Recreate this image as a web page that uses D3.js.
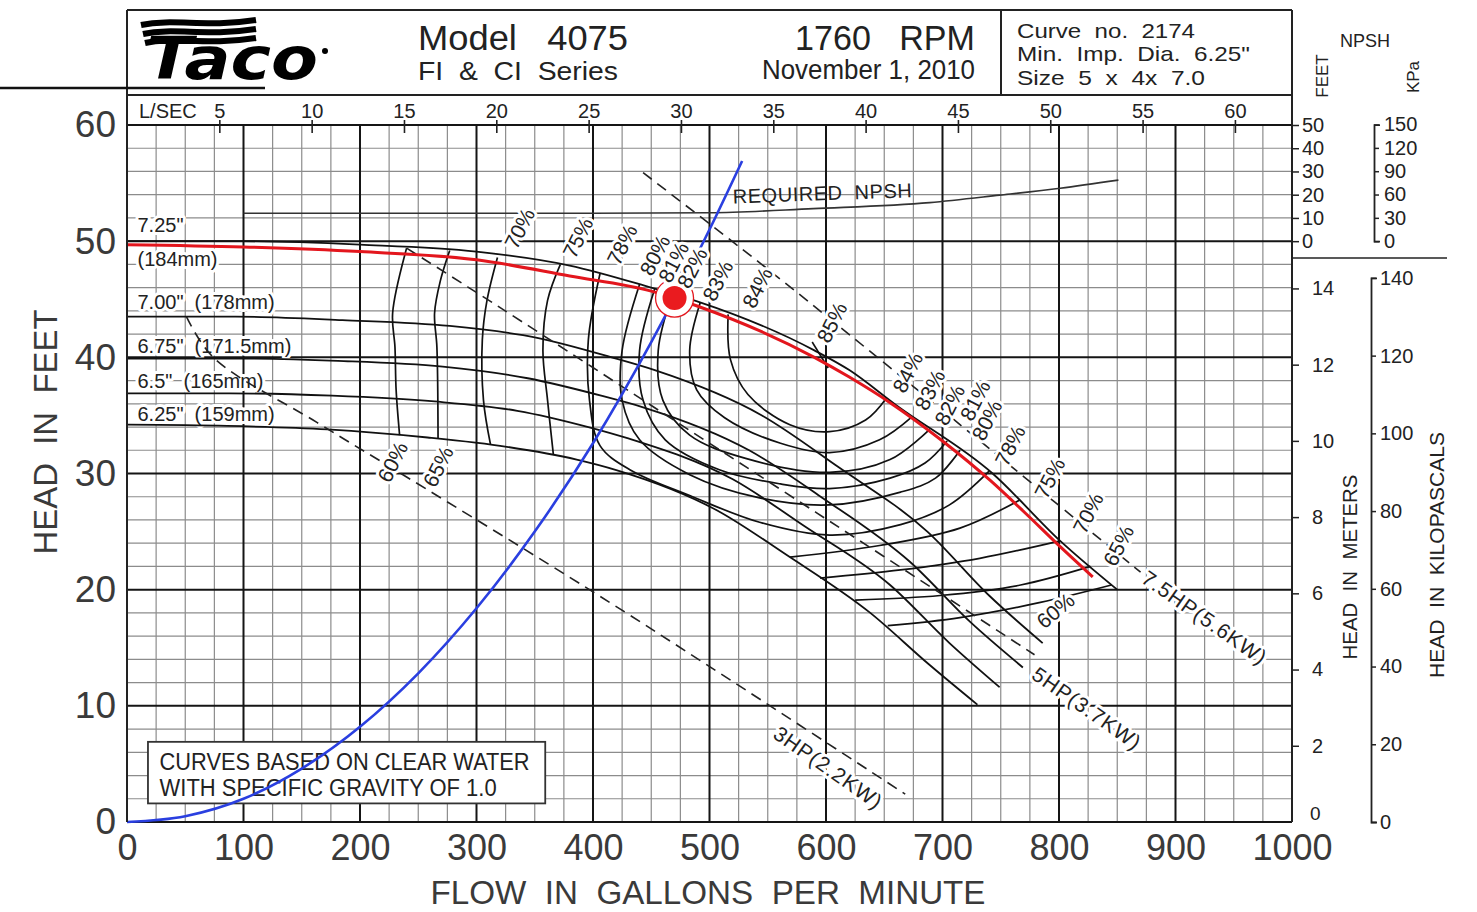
<!DOCTYPE html>
<html>
<head>
<meta charset="utf-8">
<script src="https://cdn.jsdelivr.net/npm/d3@7"></script>
<style>
  body { margin: 0; background: #fff; }
  svg { display: block; font-family: "Liberation Sans", Arial, sans-serif; }
  .halo { paint-order: stroke; stroke: #fff; stroke-width: 6px; stroke-linejoin: round; }
</style>
</head>
<body>
<svg id="chart" width="1477" height="912"></svg>
<script>
// ---- axis ticks ----
const flowTicks = [0, 100, 200, 300, 400, 500, 600, 700, 800, 900, 1000];
const headTicks = [0, 10, 20, 30, 40, 50, 60];
const lsecTicks = [5, 10, 15, 20, 25, 30, 35, 40, 45, 50, 55, 60];
const meterTicks = [0, 2, 4, 6, 8, 10, 12, 14];
const kpaTicks = [0, 20, 40, 60, 80, 100, 120, 140];
const npshFtTicks = [0, 10, 20, 30, 40, 50];
const npshKpaTicks = [0, 30, 60, 90, 120, 150];

// ---- impeller curves [gpm, feet] ----
const imp725 = [[0,50.0],[100,50.0],[200,49.7],[300,49.1],[380,47.9],[450,46.0],[490,44.8],[590,40.6],[620,38.9],[660,35.9],[743,30.0],[801,24.2],[850,20.0]];
const imp700 = [[0,43.5],[93,43.5],[185,43.2],[277,42.7],[351,41.7],[416,40.0],[453,38.9],[545,35.0],[610,30.6],[687,25.0],[740,19.5],[786,15.4]];
const imp675 = [[0,39.9],[91,39.9],[181,39.7],[271,39.2],[344,38.2],[407,36.7],[443,35.7],[534,32.0],[597,27.9],[672,22.4],[724,17.2],[769,13.3]];
const imp650 = [[0,36.9],[88,36.9],[176,36.7],[264,36.2],[335,35.4],[396,34.0],[431,33.0],[520,29.5],[581,25.5],[655,20.4],[706,15.4],[749,11.6]];
const imp625 = [[0,34.2],[86,34.1],[172,33.8],[258,33.1],[326,32.3],[386,31.2],[420,30.3],[507,26.8],[566,23.0],[638,18.0],[688,13.6],[730,10.1]];

// operating impeller (red), system curve (blue), duty point
const operating = [[0,49.7],[100,49.5],[200,49.1],[300,48.4],[380,47.0],[450,45.7],[490,44.4],[590,40.0],[620,38.3],[655,36.1],[700,32.8],[741,29.4],[771,26.6],[801,23.7],[829,21.1]];
const systemCurve = [[0,0],[50,0.5],[100,2.0],[150,4.6],[200,8.2],[250,12.8],[300,18.4],[350,25.0],[400,32.6],[450,41.3],[500,51.0],[528,56.9]];
const dutyPoint = [470, 45.1];
const bepPoint = [595, 40.2];

// required NPSH [gpm, NPSH feet]
const npshReq = [[100,12.0],[200,12.0],[300,12.0],[400,12.0],[500,12.2],[589,14.0],[689,16.6],[749,19.8],[801,22.8],[851,26.3]];

// horsepower lines
const hp3 = [[51,43.5],[74,40.0],[163,34.4],[240,29.7],[397,20.0],[509,12.8],[668,2.4]];
const hp5 = [[240,49.4],[320,44.3],[477,34.1],[563,28.5],[649,22.9],[779,14.4]];
const hp75 = [[443,55.9],[541,48.3],[601,43.5],[687,36.5],[870,21.5]];

// iso-efficiency contours
const eff60L = [[240,49.4],[228,43.8],[230,40.9],[231,37.2],[234,33.3]];
const eff65L = [[277,49.2],[269,46.6],[264,43.8],[266,40.9],[267,33.0]];
const eff70L = [[318,48.6],[309,44.9],[305,41.5],[306,36.3],[312,32.5]];
const eff75L = [[372,48.0],[361,44.9],[357,40.6],[361,36.3],[366,31.6]];
const eff78 = [[406,47.2],[396,41.5],[397,36.3],[406,32.4],[432,30.3],[483,28.1],[543,25.8],[603,24.7],[664,25.6],[706,27.3],[740,30.2]];
const eff80 = [[440,46.3],[425,40.6],[425,36.3],[440,32.9],[483,29.9],[543,27.9],[603,27.3],[664,28.4],[694,29.6],[715,32.0]];
const eff81 = [[453,45.9],[440,40.6],[443,36.3],[462,32.9],[509,30.3],[561,29.1],[603,28.7],[655,29.6],[685,30.9],[704,32.8]];
const eff82 = [[468,45.4],[456,40.6],[460,36.3],[483,33.3],[531,31.3],[603,30.1],[655,31.2],[689,33.8]];
const eff83 = [[492,44.7],[483,40.6],[489,37.2],[513,34.8],[561,32.6],[603,31.8],[646,32.9],[674,34.9]];
const eff84 = [[516,43.7],[518,39.8],[533,36.8],[569,34.2],[603,33.6],[634,34.6],[652,36.5]];
const eff75R = [[569,22.8],[646,23.8],[715,25.3],[766,27.7]];
const eff70R = [[595,21.0],[664,21.7],[732,22.7],[801,24.2]];
const eff65R = [[625,19.1],[698,19.5],[767,20.4],[827,22.0]];
const eff60R = [[653,16.9],[715,17.6],[784,18.9],[845,20.4]];

// labels placed in data coordinates [text, gpm, feet]
const SP = "\u00A0\u00A0";
const impellerLabels = [["7.25\"",9,50.8],["(184mm)",9,47.9],["7.00\"" + SP + "(178mm)",9,44.2],["6.75\"" + SP + "(171.5mm)",9,40.4],["6.5\"" + SP + "(165mm)",9,37.35],["6.25\"" + SP + "(159mm)",9,34.5]];
const effLabels = [["70%",337,51.1],["75%",387,50.3],["78%",425,49.7],["80%",453,48.8],["81%",469,48.2],["82%",485,47.7],["83%",507,46.6],["84%",541,46.0],["85%",605,43.0],["60%",228,31.0],["65%",267,30.6],
  ["84%",670,38.7],["83%",689,37.2],["82%",706,35.9],["81%",728,36.3],["80%",738,34.6],["78%",758,32.4],["75%",792,29.6],["70%",825,26.6],["65%",851,23.8]];
const eff60Label = ["60%", 797, 18.2];
const hpLabels = [["3HP(2.2KW)",602,4.7],["5HP(3.7KW)",824,9.8],["7.5HP(5.6KW)",925,17.6]];

// ---- scales ----
const GPM_PER_LS = 15.85, FT_PER_M = 3.2808, FT_PER_KPA = 0.33456;
const x = d3.scaleLinear().domain([0, 1000]).range([127, 1292]);
const y = d3.scaleLinear().domain([0, 60]).range([822, 125]);
const xL = d3.scaleLinear().domain([0, 1000 / GPM_PER_LS]).range([x(0), x(1000)]);
const yM = d3.scaleLinear().domain([0, 60 / FT_PER_M]).range([y(0), y(60)]);
const yK = d3.scaleLinear().domain([0, 140]).range([y(0), y(140 * FT_PER_KPA)]);
const yN = d3.scaleLinear().domain([0, 50]).range([y(50), y(60)]);
const yNK = d3.scaleLinear().domain([0, 150]).range([yN(0), yN(150 * FT_PER_KPA)]);

const svg = d3.select("#chart");
const gGrid = svg.append("g");
const gBack = svg.append("g");
const gCurves = svg.append("g");
const gFront = svg.append("g");

// ---- grid ----
const minorX = d3.range(0, 1001, 25).filter(v => v % 100);
const minorY = d3.range(0, 61, 2).filter(v => v % 10);
gGrid.selectAll(".mx").data(minorX).join("line")
  .attr("x1", d => x(d)).attr("x2", d => x(d)).attr("y1", y(0)).attr("y2", y(60))
  .attr("stroke", "#8c8c8c").attr("stroke-width", 1.2);
gGrid.selectAll(".my").data(minorY).join("line")
  .attr("y1", d => y(d)).attr("y2", d => y(d)).attr("x1", x(0)).attr("x2", x(1000))
  .attr("stroke", "#8c8c8c").attr("stroke-width", 1.2);
gGrid.selectAll(".Mx").data(flowTicks).join("line")
  .attr("x1", d => x(d)).attr("x2", d => x(d)).attr("y1", y(0)).attr("y2", y(60))
  .attr("stroke", "#151515").attr("stroke-width", 2);
gGrid.selectAll(".My").data(headTicks).join("line")
  .attr("y1", d => y(d)).attr("y2", d => y(d)).attr("x1", x(0)).attr("x2", x(1000))
  .attr("stroke", "#151515").attr("stroke-width", 2);

// ---- frame / header ----
const frame = svg.append("g").attr("stroke", "#222").attr("stroke-width", 2).attr("fill", "none");
frame.append("line").attr("x1", x(0)).attr("x2", x(0)).attr("y1", 10).attr("y2", y(0));
frame.append("line").attr("x1", x(1000)).attr("x2", x(1000)).attr("y1", 10).attr("y2", y(0));
frame.append("line").attr("x1", x(0)).attr("x2", x(1000)).attr("y1", 10).attr("y2", 10);
frame.append("line").attr("x1", x(0)).attr("x2", x(1000)).attr("y1", 95).attr("y2", 95);
frame.append("line").attr("x1", 1001).attr("x2", 1001).attr("y1", 10).attr("y2", 95);
frame.append("line").attr("x1", x(1000)).attr("x2", 1447).attr("y1", 258).attr("y2", 258).attr("stroke-width", 1.6);
svg.append("line").attr("x1", 0).attr("x2", 265).attr("y1", 88).attr("y2", 88)
  .attr("stroke", "#111").attr("stroke-width", 2.5);

// Taco logo
const logo = svg.append("g");
[22, 31, 40].forEach((yy, i) => {
  logo.append("path")
    .attr("d", `M${141 + i * 2},${yy + 3} C175,${yy - 4} 205,${yy + 6} 256,${yy - 2}`)
    .attr("stroke", "#000").attr("stroke-width", 6).attr("fill", "none");
});
logo.append("text").attr("x", 146).attr("y", 79)
  .attr("font-family", "DejaVu Sans").attr("font-weight", "bold").attr("font-style", "italic")
  .attr("font-size", 58).attr("textLength", 172).attr("lengthAdjust", "spacingAndGlyphs")
  .text("Taco");
logo.append("circle").attr("cx", 325).attr("cy", 51).attr("r", 3).attr("fill", "#000");

const hdr = svg.append("g").attr("fill", "#222");
function hText(xx, yy, size, len, s) {
  hdr.append("text").attr("x", xx).attr("y", yy).attr("font-size", size)
    .attr("textLength", len).attr("lengthAdjust", "spacingAndGlyphs").text(s);
}
hText(418, 50, 35, 210, "Model" + SP + " 4075");
hText(418, 80, 25, 200, "FI" + SP + "&" + SP + "CI" + SP + "Series");
hText(795, 50, 35, 180, "1760" + SP + " RPM");
hText(762, 79, 28, 213, "November 1, 2010");
hText(1017, 38, 21, 178, "Curve" + SP + "no." + SP + "2174");
hText(1017, 61, 21, 233, "Min." + SP + "Imp." + SP + "Dia." + SP + "6.25\"");
hText(1017, 85, 21, 188, "Size" + SP + "5" + SP + "x" + SP + "4x" + SP + "7.0");

// ---- L/SEC axis ----
const topAxis = svg.append("g").attr("transform", `translate(0,${y(60)})`)
  .call(d3.axisTop(xL).tickValues(lsecTicks).tickSize(0).tickPadding(7));
topAxis.select(".domain").remove();
topAxis.selectAll(".tick line").attr("y1", 8).attr("y2", -5).attr("stroke", "#222").attr("stroke-width", 1.6);
topAxis.selectAll("text").attr("font-size", 20).attr("fill", "#222").attr("font-family", "Liberation Sans");
svg.append("text").attr("x", 139).attr("y", 118).attr("font-size", 20).attr("fill", "#222").text("L/SEC");

// ---- left & bottom axes ----
const leftAxis = svg.append("g").attr("transform", `translate(${x(0)},0)`)
  .call(d3.axisLeft(y).tickValues(headTicks).tickSize(0).tickPadding(11));
leftAxis.select(".domain").remove();
leftAxis.selectAll("text").attr("font-size", 37).attr("fill", "#3a3a3a").attr("font-family", "Liberation Sans");

const bottomAxis = svg.append("g").attr("transform", `translate(0,${y(0)})`)
  .call(d3.axisBottom(x).tickValues(flowTicks).tickFormat(d3.format("d")).tickSize(0).tickPadding(12));
bottomAxis.select(".domain").remove();
bottomAxis.selectAll("text").attr("font-size", 36).attr("fill", "#3a3a3a").attr("font-family", "Liberation Sans");

svg.append("text").attr("transform", "translate(57,432) rotate(-90)").attr("text-anchor", "middle")
  .attr("font-size", 34).attr("fill", "#3a3a3a")
  .attr("textLength", 245).attr("lengthAdjust", "spacingAndGlyphs").text("HEAD" + SP + "IN" + SP + "FEET");
svg.append("text").attr("x", 708).attr("y", 904).attr("text-anchor", "middle")
  .attr("font-size", 34).attr("fill", "#3a3a3a")
  .attr("textLength", 555).attr("lengthAdjust", "spacingAndGlyphs")
  .text(["FLOW", "IN", "GALLONS", "PER", "MINUTE"].join(SP));

// ---- right axes ----
function styleRight(g, size) {
  g.selectAll("text").attr("font-size", size).attr("fill", "#222").attr("font-family", "Liberation Sans");
  g.selectAll("line").attr("stroke", "#222").attr("stroke-width", 1.5);
  g.select(".domain").attr("stroke", "#222").attr("stroke-width", 1.8);
}
const mAxis = svg.append("g").attr("transform", `translate(${x(1000)},0)`)
  .call(d3.axisRight(yM).tickValues(meterTicks.filter(d => d > 0)).tickSize(7).tickPadding(13));
mAxis.select(".domain").remove();
styleRight(mAxis, 20);
const mZero = svg.append("g").attr("transform", `translate(${x(1000)},0)`)
  .call(d3.axisRight(yM).tickValues([0]).tickSize(0).tickPadding(18));
mZero.select(".domain").remove();
styleRight(mZero, 19);
mZero.selectAll("text").attr("dy", "-0.15em");

const kAxis = svg.append("g").attr("transform", "translate(1371,0)")
  .call(d3.axisRight(yK).tickValues(kpaTicks).tickSize(5).tickSizeOuter(6).tickPadding(4));
styleRight(kAxis, 20);

const nAxis = svg.append("g").attr("transform", `translate(${x(1000)},0)`)
  .call(d3.axisRight(yN).tickValues(npshFtTicks).tickSize(7).tickPadding(3));
nAxis.select(".domain").remove();
styleRight(nAxis, 20);
const nkAxis = svg.append("g").attr("transform", "translate(1374,0)")
  .call(d3.axisRight(yNK).tickValues(npshKpaTicks).tickSize(5).tickSizeOuter(6).tickPadding(5));
styleRight(nkAxis, 20);

svg.append("text").attr("x", 1340).attr("y", 47).attr("font-size", 18).attr("fill", "#222").text("NPSH");
svg.append("text").attr("transform", "translate(1328,76) rotate(-90)").attr("text-anchor", "middle")
  .attr("font-size", 17).attr("fill", "#222").text("FEET");
svg.append("text").attr("transform", "translate(1419,77) rotate(-90)").attr("text-anchor", "middle")
  .attr("font-size", 17).attr("fill", "#222").text("KPa");
svg.append("text").attr("transform", "translate(1357,567) rotate(-90)").attr("text-anchor", "middle")
  .attr("font-size", 20).attr("fill", "#222")
  .attr("textLength", 185).attr("lengthAdjust", "spacingAndGlyphs").text("HEAD" + SP + "IN" + SP + "METERS");
svg.append("text").attr("transform", "translate(1444,555) rotate(-90)").attr("text-anchor", "middle")
  .attr("font-size", 20).attr("fill", "#222")
  .attr("textLength", 246).attr("lengthAdjust", "spacingAndGlyphs").text("HEAD" + SP + "IN" + SP + "KILOPASCALS");

// ---- note box ----
gBack.append("rect").attr("x", x(18)).attr("y", y(6.9))
  .attr("width", x(359) - x(18)).attr("height", y(1.6) - y(6.9))
  .attr("fill", "#fff").attr("stroke", "#333").attr("stroke-width", 1.8);
gBack.append("text").attr("x", x(28)).attr("y", y(4.45)).attr("font-size", 23)
  .attr("font-family", "Liberation Sans Narrow, Liberation Sans").attr("fill", "#222")
  .attr("textLength", 370).attr("lengthAdjust", "spacingAndGlyphs").text("CURVES BASED ON CLEAR WATER");
gBack.append("text").attr("x", x(28)).attr("y", y(2.2)).attr("font-size", 23)
  .attr("font-family", "Liberation Sans Narrow, Liberation Sans").attr("fill", "#222")
  .attr("textLength", 337).attr("lengthAdjust", "spacingAndGlyphs").text("WITH SPECIFIC GRAVITY OF 1.0");

// impeller labels (behind curves)
gBack.selectAll(".imp").data(impellerLabels).join("text")
  .attr("class", "halo").attr("x", d => x(d[1])).attr("y", d => y(d[2]))
  .attr("font-size", 20).attr("fill", "#222")
  .text(d => d[0]);

// ---- curves ----
const line = d3.line().x(d => x(d[0])).y(d => y(d[1])).curve(d3.curveMonotoneX);
const smooth = d3.line().x(d => x(d[0])).y(d => y(d[1])).curve(d3.curveCatmullRom.alpha(0.5));
const npshLine = d3.line().x(d => x(d[0])).y(d => yN(d[1])).curve(d3.curveMonotoneX);

[imp725, imp700, imp675, imp650, imp625].forEach(c => {
  gCurves.append("path").attr("d", line(c)).attr("fill", "none").attr("stroke", "#111").attr("stroke-width", 1.8);
});
[eff60L, eff65L, eff70L, eff75L, eff78, eff80, eff81, eff82, eff83, eff84, eff75R, eff70R, eff65R, eff60R].forEach(c => {
  gCurves.append("path").attr("d", smooth(c)).attr("fill", "none").attr("stroke", "#111").attr("stroke-width", 1.7);
});
[hp3, hp5, hp75].forEach(c => {
  gCurves.append("path").attr("d", smooth(c)).attr("fill", "none").attr("stroke", "#222")
    .attr("stroke-width", 1.6).attr("stroke-dasharray", "11,7");
});
gCurves.append("path").attr("d", npshLine(npshReq)).attr("fill", "none").attr("stroke", "#333").attr("stroke-width", 1.6);

// BEP tick on the operating curve
gCurves.append("line")
  .attr("x1", x(bepPoint[0]) - 8).attr("y1", y(bepPoint[1]) - 13)
  .attr("x2", x(bepPoint[0]) + 8).attr("y2", y(bepPoint[1]) + 13)
  .attr("stroke", "#111").attr("stroke-width", 1.6);

gCurves.append("path").attr("d", line(operating)).attr("fill", "none").attr("stroke", "#e3161d").attr("stroke-width", 3);
gCurves.append("path").attr("d", line(systemCurve)).attr("fill", "none").attr("stroke", "#2a3fe0").attr("stroke-width", 2.6);

gCurves.append("circle").attr("cx", x(dutyPoint[0])).attr("cy", y(dutyPoint[1])).attr("r", 19)
  .attr("fill", "#fff").attr("stroke", "#e3161d").attr("stroke-width", 1.3);
gCurves.append("circle").attr("cx", x(dutyPoint[0])).attr("cy", y(dutyPoint[1])).attr("r", 12)
  .attr("fill", "#ea1b1f");

// ---- front labels ----
gFront.selectAll(".eff").data(effLabels).join("text")
  .attr("class", "halo").attr("text-anchor", "middle").attr("dominant-baseline", "central")
  .attr("transform", d => `translate(${x(d[1])},${y(d[2])}) rotate(-63)`)
  .attr("font-size", 21).attr("fill", "#222").text(d => d[0]);
gFront.append("text").datum(eff60Label)
  .attr("class", "halo").attr("text-anchor", "middle").attr("dominant-baseline", "central")
  .attr("transform", d => `translate(${x(d[1])},${y(d[2])}) rotate(-40)`)
  .attr("font-size", 21).attr("fill", "#222").text(d => d[0]);
gFront.selectAll(".hp").data(hpLabels).join("text")
  .attr("class", "halo").attr("text-anchor", "middle").attr("dominant-baseline", "central")
  .attr("transform", d => `translate(${x(d[1])},${y(d[2])}) rotate(35)`)
  .attr("font-size", 21).attr("letter-spacing", 1).attr("fill", "#222").text(d => d[0]);
gFront.append("text")
  .attr("transform", `translate(${x(597)},${yN(17.6)}) rotate(-2)`)
  .attr("text-anchor", "middle").attr("font-size", 20).attr("fill", "#222")
  .attr("textLength", 179).text("REQUIRED" + SP + "NPSH");
</script>
</body>
</html>
